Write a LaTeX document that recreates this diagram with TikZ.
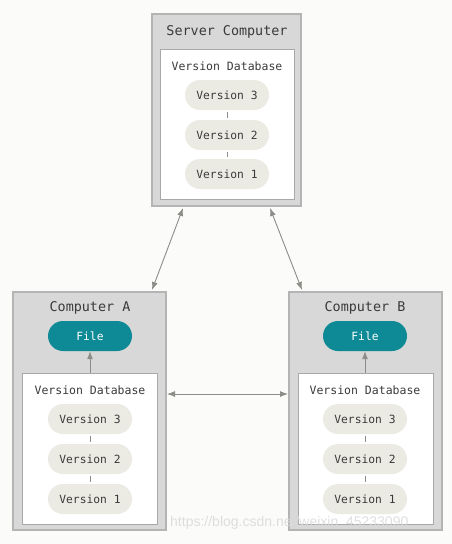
\documentclass[tikz,border=0pt]{standalone}
\usepackage{fontspec}
\setmonofont{DejaVu Sans Mono}
\newfontfamily\wmfont{Liberation Sans}
\usetikzlibrary{arrows.meta}
\definecolor{bgc}{HTML}{FBFBF9}
\definecolor{outerfill}{HTML}{D8D8D8}
\definecolor{outerdraw}{HTML}{B4B4B4}
\definecolor{innerdraw}{HTML}{A8A8A8}
\definecolor{pillfill}{HTML}{ECEBE3}
\definecolor{tealc}{HTML}{0E8A96}
\definecolor{txt}{HTML}{3A3A3A}
\definecolor{arr}{HTML}{8C8C88}
\tikzset{
  outerbox/.style={draw=outerdraw, fill=outerfill, line width=1.2pt},
  innerbox/.style={draw=innerdraw, fill=white, line width=0.8pt},
  pill/.style={rectangle, rounded corners=15pt, minimum width=84pt, minimum height=30pt, inner sep=0pt, fill=pillfill, text=txt, font=\ttfamily\fontsize{11.3}{13}\selectfont},
  filepill/.style={pill, fill=tealc, text=white},
  title/.style={text=txt, font=\ttfamily\fontsize{13.4}{15}\selectfont, inner sep=0pt},
  dbtitle/.style={text=txt, font=\ttfamily\fontsize{11.5}{13}\selectfont, inner sep=0pt},
  link/.style={draw=arr, line width=0.8pt, shorten <=2pt, shorten >=2pt},
  arrow/.style={draw=arr, line width=0.9pt, -{Latex[length=8pt,width=6pt]}},
  darrow/.style={draw=arr, line width=0.9pt, {Latex[length=8pt,width=6pt]}-{Latex[length=8pt,width=6pt]}},
}
\begin{document}
\begin{tikzpicture}[x=1pt,y=-1pt]
\fill[bgc] (0,0) rectangle (452,544);
\useasboundingbox (0,0) rectangle (452,544);

% Server
\draw[outerbox] (152,14) rectangle (301,206);
\node[inner sep=0pt, minimum width=149pt, minimum height=192pt] (srv) at (226.5,110) {};
\draw[innerbox] (160,49) rectangle (294,199);
\node[title] (srvt) at (227,32) {Server Computer};
\node[dbtitle] (srvdb) at (227,66) {Version Database};
\node[pill] (s3) at (227,95) {Version 3};
\node[pill] (s2) at (227,135) {Version 2};
\node[pill] (s1) at (227,174) {Version 1};
\draw[link] (s3) -- (s2);
\draw[link] (s2) -- (s1);

% Computer A
\draw[outerbox] (13,292) rectangle (166,530);
\draw[innerbox] (22,373) rectangle (157,524);
\coordinate (ainner) at (90,373);
\node[title] (at) at (90,308) {Computer A};
\node[filepill] (af) at (90,336) {File};
\node[dbtitle] (adb) at (90,390) {Version Database};
\node[pill] (a3) at (90,419) {Version 3};
\node[pill] (a2) at (90,459) {Version 2};
\node[pill] (a1) at (90,499) {Version 1};
\draw[link] (a3) -- (a2);
\draw[link] (a2) -- (a1);
\draw[arrow] (ainner) -- (af);

% Computer B
\draw[outerbox] (289,292) rectangle (442,530);
\draw[innerbox] (298,373) rectangle (433,524);
\coordinate (binner) at (365,373);
\node[title] (bt) at (365,308) {Computer B};
\node[filepill] (bf) at (365,336) {File};
\node[dbtitle] (bdb) at (365,390) {Version Database};
\node[pill] (b3) at (365,419) {Version 3};
\node[pill] (b2) at (365,459) {Version 2};
\node[pill] (b1) at (365,499) {Version 1};
\draw[link] (b3) -- (b2);
\draw[link] (b2) -- (b1);
\draw[arrow] (binner) -- (bf);

% Connectors
\coordinate (sl) at (183,208);
\coordinate (sr) at (270,208);
\coordinate (atop) at (152,290);
\coordinate (btop) at (302,290);
\coordinate (aright) at (167,394);
\coordinate (bleft) at (288,394);
\draw[darrow] (sl) -- (atop);
\draw[darrow] (sr) -- (btop);
\draw[darrow] (aright) -- (bleft);

% watermark
\node[text=white, opacity=0.75, font=\wmfont\fontsize{14}{16}\selectfont, inner sep=0pt, anchor=west] (wm) at (170,523) {https://blog.csdn.net/weixin\_45233090};
\node[text=gray, opacity=0.25, font=\wmfont\fontsize{14}{16}\selectfont, inner sep=0pt, anchor=west] (wm2) at (170,523) {https://blog.csdn.net/weixin\_45233090};
\end{tikzpicture}
\end{document}
